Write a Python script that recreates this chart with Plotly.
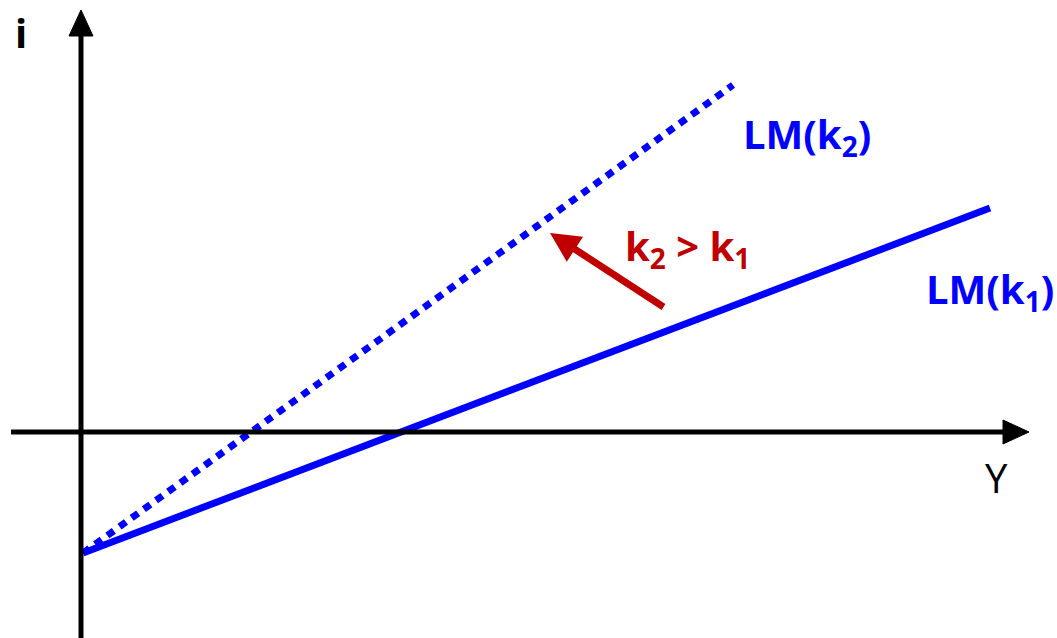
import plotly.graph_objects as go

# Model coordinates: origin at the crossing of the axes (units ~ pixels)
x_range = [-81, 976]
y_range = [-206, 432]

lm1_x = [2, 909]
lm1_y = [-121, 224]
lm2_x = [2, 652]
lm2_y = [-121, 347]

shift_from = (584, 124)
shift_to = (469, 199)

labels = ["LM(k<sub>2</sub>)", "k<sub>2</sub> > k<sub>1</sub>", "LM(k<sub>1</sub>)"]
label_x = [726, 606, 909]
label_y = [297, 185, 142]

axis_label_i = ("i", -60, 400)
axis_label_Y = ("Y", 915, -45)

BLUE = "#0000FF"
RED = "#C00000"
FONT = "Open Sans"

fig = go.Figure()

fig.add_trace(go.Scatter(x=lm2_x, y=lm2_y, mode="lines",
                         line=dict(color=BLUE, width=7, dash="8px,7px"),
                         hoverinfo="skip"))
fig.add_trace(go.Scatter(x=lm1_x, y=lm1_y, mode="lines",
                         line=dict(color=BLUE, width=7),
                         hoverinfo="skip"))

# axes
fig.add_shape(type="line", x0=0, x1=0, y0=-206, y1=400,
              line=dict(color="black", width=5))
fig.add_shape(type="path", path="M 0,422 L -12,396 L 12,396 Z",
              fillcolor="black", line=dict(color="black", width=1))
fig.add_shape(type="line", x0=-70, x1=930, y0=0, y1=0,
              line=dict(color="black", width=5))
fig.add_shape(type="path", path="M 948,0 L 922,12 L 922,-12 Z",
              fillcolor="black", line=dict(color="black", width=1))

# shift arrow
fig.add_annotation(x=shift_to[0], y=shift_to[1], ax=shift_from[0], ay=shift_from[1],
                   xref="x", yref="y", axref="x", ayref="y", text="",
                   showarrow=True, arrowhead=2, arrowsize=0.85, arrowwidth=7,
                   arrowcolor=RED)

colors = [BLUE, RED, BLUE]
for t, x, y, c in zip(labels, label_x, label_y, colors):
    fig.add_annotation(x=x, y=y, text=t, showarrow=False,
                       font=dict(family=FONT, size=40, color=c, weight="bold"))

fig.add_annotation(x=axis_label_i[1], y=axis_label_i[2], text=axis_label_i[0],
                   showarrow=False,
                   font=dict(family=FONT, size=40, color="black", weight="bold"))
fig.add_annotation(x=axis_label_Y[1], y=axis_label_Y[2], text=axis_label_Y[0],
                   showarrow=False,
                   font=dict(family=FONT, size=40, color="black"))

fig.update_layout(
    width=1057, height=638,
    margin=dict(l=0, r=0, t=0, b=0),
    paper_bgcolor="white", plot_bgcolor="white",
    showlegend=False,
    xaxis=dict(range=x_range, visible=False, fixedrange=True),
    yaxis=dict(range=y_range, visible=False, fixedrange=True),
)

fig.write_html("out.html", config={"displayModeBar": False},
               post_script="document.body.style.margin='0';document.body.style.overflow='hidden';")
